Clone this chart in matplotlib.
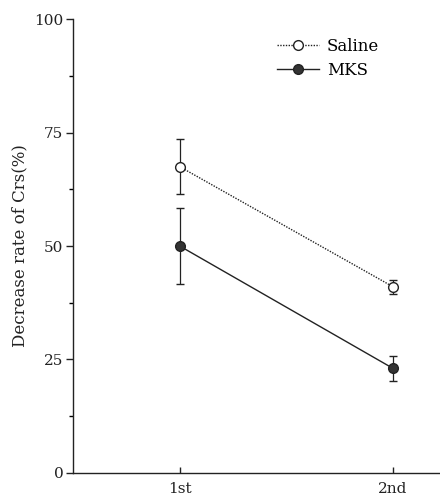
import matplotlib
matplotlib.use("Agg")
import matplotlib.pyplot as plt
from matplotlib.ticker import MultipleLocator
from matplotlib.lines import Line2D

plt.rcParams['font.family'] = ['DejaVu Serif']

# data
trials = ["1st", "2nd"]
x_pos = [1, 2]
saline_mean = [67.5, 41.0]
saline_err = [6.0, 1.6]
mks_mean = [50.0, 23.0]
mks_err = [8.3, 2.8]

fig = plt.figure(figsize=(4.4, 4.96), dpi=100)
ax = fig.add_axes([0.166, 0.047, 0.834, 0.914])

# Saline - open circles, dotted line
ax.errorbar(x_pos, saline_mean, yerr=saline_err, fmt='o', ls=(0, (1, 1)),
            color='#222222', lw=1.0, mfc='white', mec='#222222', ms=7,
            mew=1.0, capsize=3, elinewidth=0.9, capthick=0.9)
# MKS - filled circles, solid line
ax.errorbar(x_pos, mks_mean, yerr=mks_err, fmt='o', ls='-',
            color='#222222', lw=1.0, mfc='#333333', mec='#222222', ms=7,
            mew=1.0, capsize=3, elinewidth=0.9, capthick=0.9)

ax.set_xlim(0.5, 2.22)
ax.set_ylim(0, 100)
ax.set_xticks(x_pos)
ax.set_xticklabels(trials)
ax.set_yticks([0, 25, 50, 75, 100])
ax.yaxis.set_minor_locator(MultipleLocator(12.5))

ax.spines['top'].set_visible(False)
ax.spines['right'].set_visible(False)
for s in ['left', 'bottom']:
    ax.spines[s].set_linewidth(1.0)
    ax.spines[s].set_color('#222222')

ax.tick_params(axis='y', direction='out', length=5, width=1, labelsize=11, pad=2, colors='#222222')
ax.tick_params(axis='y', which='minor', direction='out', length=3, width=1)
ax.tick_params(axis='x', direction='in', length=4, width=1, labelsize=11, pad=7, colors='#222222')

ax.set_ylabel('Decrease rate of Crs(%)', fontsize=12, labelpad=4, color='#222222')

# legend without error bars
handles = [
    Line2D([], [], color='#222222', ls=(0, (1, 1)), lw=1.0, marker='o', ms=7,
           mfc='white', mec='#222222'),
    Line2D([], [], color='#222222', ls='-', lw=1.0, marker='o', ms=7,
           mfc='#333333', mec='#222222'),
]
ax.legend(handles, ['Saline', 'MKS'], loc='upper left', bbox_to_anchor=(0.515, 0.993),
          frameon=False, fontsize=12, handlelength=2.5, handletextpad=0.5,
          labelspacing=0.45)

fig.savefig('out.png', dpi=100)
